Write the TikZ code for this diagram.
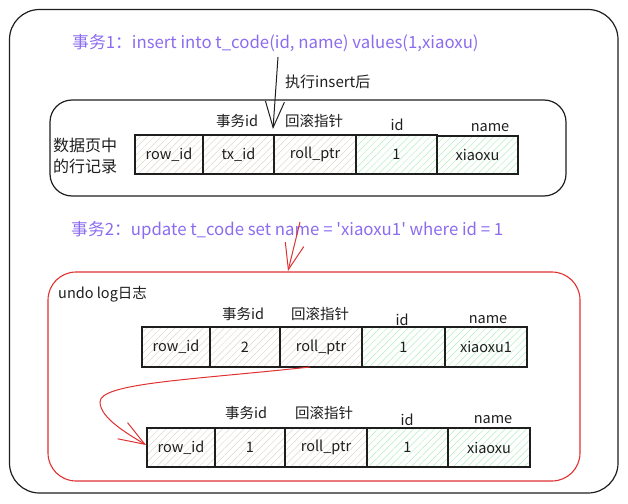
\documentclass[tikz,border=0pt]{standalone}
\usepackage{fontspec}
\newfontfamily\cjk{Noto Sans CJK SC}
\usetikzlibrary{patterns.meta,arrows.meta}
\definecolor{purp}{HTML}{8B6CF0}
\definecolor{exred}{HTML}{E03131}
\definecolor{ink}{HTML}{1E1E1E}
\definecolor{hatchgray}{HTML}{E0D6CE}
\definecolor{hatchgreen}{HTML}{B2EDBC}
\begin{document}
\begin{tikzpicture}[x=1pt,y=-1pt,
  cellbase/.style={draw=ink, line width=1.1pt, inner sep=0pt,
    font=\cjk\fontsize{14.5}{16}\selectfont, text=ink},
  cellg/.style={cellbase, pattern={Lines[angle=45,distance=5pt,line width=0.5pt]}, pattern color=hatchgray},
  cellv/.style={cellbase, pattern={Lines[angle=45,distance=5pt,line width=0.5pt]}, pattern color=hatchgreen},
  lbl/.style={font=\cjk\fontsize{14.5}{16}\selectfont, text=ink, inner sep=0pt},
  title/.style={font=\cjk\fontsize{16.8}{19}\selectfont, text=purp, inner sep=0pt, anchor=west},
  frame/.style={draw=ink, line width=1.2pt},
  redframe/.style={draw=exred, line width=1.1pt},
  barb/.style={-{Straight Barb[length=26pt,width=19pt]}},
]
\useasboundingbox (0,0) rectangle (628,503);

% frames
\draw[frame, rounded corners=30pt] (9.5,9.5) rectangle (618,493);
\draw[frame, rounded corners=22pt] (50,100) rectangle (566,196);
\draw[redframe, rounded corners=28pt] (48,272) rectangle (580,481);

% titles
\node[title] (t1) at (72,43) {事务1：insert into t\_code(id, name) values(1,xiaoxu)};
\node[title] (t2) at (71,230) {事务2：update t\_code set name = 'xiaoxu1' where id = 1};

% row 1
\node[lbl, align=left, font=\cjk\fontsize{16}{21}\selectfont] (dp) at (85,156) {数据页中\\的行记录};
\node[cellg, minimum width=68pt, minimum height=39pt] (r1a) at (169,154.5) {row\_id};
\node[cellg, minimum width=71pt, minimum height=39pt] (r1b) at (238.5,154.5) {tx\_id};
\node[cellg, minimum width=82pt, minimum height=39pt] (r1c) at (315,154.5) {roll\_ptr};
\node[cellv, minimum width=81pt, minimum height=39pt] (r1d) at (396.5,154.5) {1};
\node[cellv, minimum width=81pt, minimum height=38pt] (r1e) at (477.5,155) {xiaoxu};
\node[lbl] (l1a) at (237,121) {事务id};
\node[lbl] (l1b) at (314,121) {回滚指针};
\node[lbl] (l1c) at (397,125) {id};
\node[lbl] (l1d) at (490,128) {name};

% row 2
\node[lbl, anchor=west] (ul) at (58,294) {undo log日志};
\node[cellg, minimum width=68pt, minimum height=40pt] (r2a) at (176,347) {row\_id};
\node[cellg, minimum width=70pt, minimum height=40pt] (r2b) at (245,347) {2};
\node[cellg, minimum width=82pt, minimum height=40pt] (r2c) at (321,347) {roll\_ptr};
\node[cellv, minimum width=83pt, minimum height=40pt] (r2d) at (403.5,347) {1};
\node[cellv, minimum width=82pt, minimum height=40pt] (r2e) at (486,347) {xiaoxu1};
\node[lbl] (l2a) at (243,314) {事务id};
\node[lbl] (l2b) at (320,314) {回滚指针};
\node[lbl] (l2c) at (402,320) {id};
\node[lbl] (l2d) at (488,320) {name};

% row 3
\node[cellg, minimum width=68pt, minimum height=39pt] (r3a) at (181,447.5) {row\_id};
\node[cellg, minimum width=70pt, minimum height=39pt] (r3b) at (250,447.5) {1};
\node[cellg, minimum width=82pt, minimum height=39pt] (r3c) at (326,447.5) {roll\_ptr};
\node[cellv, minimum width=81pt, minimum height=39pt] (r3d) at (407.5,447.5) {1};
\node[cellv, minimum width=82pt, minimum height=39pt] (r3e) at (489,447.5) {xiaoxu};
\node[lbl] (l3a) at (246,413) {事务id};
\node[lbl] (l3b) at (324,413) {回滚指针};
\node[lbl] (l3c) at (407,420) {id};
\node[lbl] (l3d) at (493,420) {name};

% arrow 1 (black)
\coordinate (a1s) at (278,57);
\coordinate (a1e) at (273,129);
\draw[ink, line width=1pt, barb] (a1s) -- (a1e);
\node[lbl, anchor=west, font=\cjk\fontsize{15}{17}\selectfont] (a1l) at (285,82) {执行insert后};

% arrow 2 (red)
\coordinate (a2s) at (300,222);
\coordinate (a2e) at (288,271);
\draw[exred, line width=1pt, barb] (a2s) -- (a2e);

% curved red arrow
\coordinate (a3s) at (310,367);
\coordinate (a3m) at (100,402);
\coordinate (a3e) at (146,445);
\draw[exred, line width=1pt, barb] (a3s) .. controls (190,380) and (100,383) .. (a3m) .. controls (100,418) and (128,434) .. (a3e);
\end{tikzpicture}
\end{document}
